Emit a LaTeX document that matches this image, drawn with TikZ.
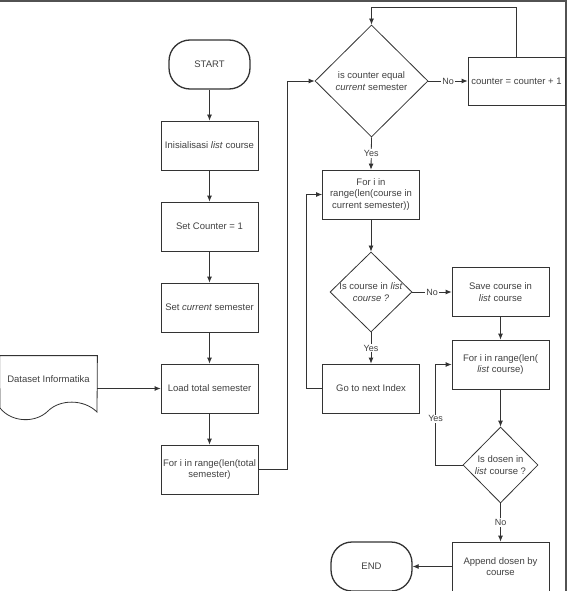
\documentclass[tikz,border=0pt]{standalone}
\usepackage{fontspec}
\setmainfont{Liberation Sans}
\usetikzlibrary{shapes.geometric, arrows.meta}
\definecolor{ink}{HTML}{333333}
\definecolor{txt}{HTML}{404040}
\tikzset{
  proc/.style={draw=ink, line width=0.8pt, minimum width=97pt, minimum height=49pt, align=center, inner sep=1pt, text=txt, font=\fontsize{9.5}{11.3}\selectfont},
  term/.style={proc, line width=1.3pt, rounded corners=21pt, minimum width=81pt},
  decis/.style={diamond, draw=ink, line width=0.8pt, inner sep=0pt},
  dtext/.style={align=center, text=txt, font=\fontsize{9.5}{11.3}\selectfont},
  flow/.style={draw=ink, line width=0.8pt, >={Latex[length=6pt, width=5pt]}, ->},
  tag/.style={fill=white, text=txt, inner sep=1pt, font=\fontsize{9}{10}\selectfont},
}
\begin{document}
\begin{tikzpicture}[x=1pt, y=-1pt]
\useasboundingbox (0,0) rectangle (568,591);
\draw [line width=1.6pt, ink!85] (0,1) -- (566,1) -- (566,591);

\node[term] (start) at (209.5,64.5) {START};
\node[proc] (init) at (209.5,145.5) {Inisialisasi \textit{list} course};
\node[proc] (cnt) at (209.5,226.5) {Set Counter = 1};
\node[proc] (cur) at (209.5,307.5) {Set \textit{current} semester};
\node[proc] (load) at (209.5,388.5) {Load total semester};
\node[proc] (loop1) at (209.5,469.5) {For i in range(len(total\\semester)};
\node[proc, draw=none, minimum height=46pt] (data) at (48.5,379) {Dataset Informatika};

\node[decis, minimum width=113pt, minimum height=112pt, label={[dtext]center:is counter equal\\\textit{current} semester}] (dec1) at (371.5,81) {};
\node[proc, minimum height=48pt] (inc) at (516.5,81) {counter = counter + 1};
\node[proc] (loop2) at (371,194.5) {For i in\\range(len(course in\\current semester))};
\node[decis, minimum width=82pt, minimum height=80pt, label={[dtext]center:Is course in \textit{list}\\\textit{course ?}}] (dec2) at (371,292) {};
\node[proc] (save) at (500.5,292) {Save course in\\\textit{list} course};
\node[proc] (next) at (371,388.5) {Go to next Index};
\node[proc] (loop3) at (500.5,364.5) {For i in range(len(\\\textit{list} course)};
\node[decis, minimum width=75pt, minimum height=76pt, label={[dtext]center:Is dosen in\\\textit{list} course ?}] (dec3) at (500.5,465) {};
\node[proc] (app) at (500.5,566.5) {Append dosen by\\course};
\node[term] (end) at (371.5,566.5) {END};

\draw [ink, line width=0.8pt] (data.north west) -- (data.north east) -- (97,412) .. controls (84,399) and (60,399) .. (48,411) .. controls (36,423) and (12,423) .. (0,408) -- cycle;

\draw [flow] (start) -- (init);
\draw [flow] (init) -- (cnt);
\draw [flow] (cnt) -- (cur);
\draw [flow] (cur) -- (load);
\draw [flow] (load) -- (loop1);
\draw [flow] (data.east |- load.west) -- (load.west);
\draw [flow] (loop1.east) -- ++(29,0) |- (dec1.west);
\draw [flow] (dec1.east) -- node[tag]{No} (inc.west);
\draw [flow] (inc.north) -- ++(0,-49) -| (dec1.north);
\draw [flow] (dec1.south) -- node[tag]{Yes} (loop2.north);
\draw [flow] (loop2) -- (dec2);
\draw [flow] (dec2.east) -- node[tag]{No} (save.west);
\draw [flow] (dec2.south) -- node[tag]{Yes} (next.north);
\draw [flow] (next.west) -- ++(-16,0) |- (loop2.west);
\draw [flow] (save) -- (loop3);
\draw [flow] (loop3) -- (dec3);
\draw [flow] (dec3.west) -- ++(-27,0) |- node[tag, pos=0.23]{Yes} (loop3.west);
\draw [flow] (dec3.south) -- node[tag]{No} (app.north);
\draw [flow] (app) -- (end);

\end{tikzpicture}
\end{document}
